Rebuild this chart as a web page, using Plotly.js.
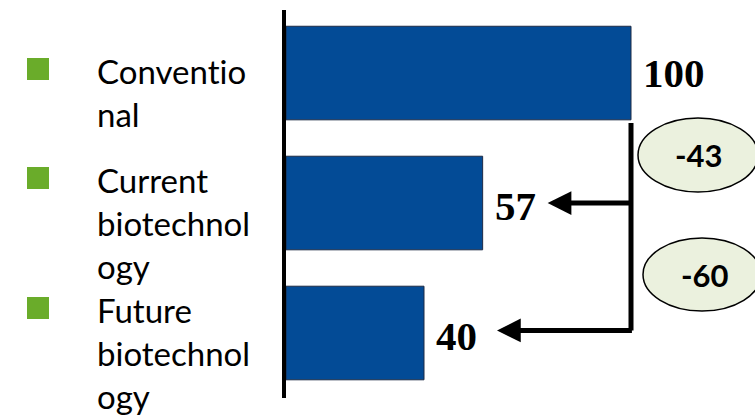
<!DOCTYPE html>
<html>
<head>
<meta charset="utf-8">
<script src="https://cdn.plot.ly/plotly-3.0.1.min.js"></script>
<style>
  html, body { margin: 0; padding: 0; background: #ffffff; }
  #chart { width: 755px; height: 415px; }
  #chart text { font-variant-ligatures: none; font-feature-settings: "liga" 0, "clig" 0; }
</style>
</head>
<body>
<div id="chart"></div>
<script>
// ---- data ----
const categories = ['Conventional', 'Current biotechnology', 'Future biotechnology'];
const values = [100, 57, 40];
const legendLabels = ['Conventio<br>nal', 'Current<br>biotechnol<br>ogy', 'Future<br>biotechnol<br>ogy'];
const changes = [-43, -60];

// ---- layout helpers (pixel -> paper) ----
const W = 755, H = 415;
const M = { l: 286, r: 0, t: 10, b: 17 };
const PW = W - M.l - M.r, PH = H - M.t - M.b;
const px = x => (x - M.l) / PW;
const py = y => (H - M.b - y) / PH;

const barColor = '#034B96';
const bulletColor = '#6AAC2A';

const traces = [{
  type: 'bar',
  orientation: 'h',
  y: categories,
  x: values,
  width: 0.72,
  marker: { color: barColor, line: { color: '#1d2b45', width: 1 } },
  hoverinfo: 'skip'
}];

const shapes = [];
const annotations = [];

// legend-like labels with green bullets on the left
const legendCenters = [92, 223, 353];
const bulletCenters = [69, 178, 308];
legendLabels.forEach((t, i) => {
  annotations.push({
    xref: 'paper', yref: 'paper', x: px(95), y: py(legendCenters[i]),
    xanchor: 'left', yanchor: 'middle', align: 'left', showarrow: false,
    text: t, font: { family: 'Lato, sans-serif', size: 33, color: '#000000' }
  });
  shapes.push({
    type: 'rect', xref: 'paper', yref: 'paper',
    x0: px(27), x1: px(49), y0: py(bulletCenters[i] + 11), y1: py(bulletCenters[i] - 11),
    fillcolor: bulletColor, line: { width: 0 }
  });
});

// value labels
const labelYShift = [0, -3, -3];
values.forEach((v, i) => {
  annotations.push({
    xref: 'x', yref: 'y', x: v, y: i, xanchor: 'left', yanchor: 'middle',
    xshift: 10, yshift: labelYShift[i], showarrow: false, text: String(v),
    font: { family: '"Liberation Serif", "Times New Roman", serif', size: 41, color: '#000000', weight: 'bold' }
  });
});

// bracket: vertical line at the reference value, arrows to the other bars
shapes.push({
  type: 'line', xref: 'x', yref: 'y',
  x0: values[0], x1: values[0], y0: 0.385, y1: 2 - 0.02,
  line: { color: '#000000', width: 5 }
});
const standoffs = [65, 73];
[1, 2].forEach((i, k) => {
  annotations.push({
    xref: 'x', yref: 'y', x: values[i], y: i - (i === 2 ? 0.02 : 0),
    axref: 'x', ax: values[0] + 0.7, ayref: 'pixel', ay: 0,
    text: '', showarrow: true, arrowhead: 2, arrowsize: 0.95, arrowwidth: 5,
    arrowcolor: '#000000', standoff: standoffs[k]
  });
});

// change ellipses
const ellipses = [
  { x0: 638, x1: 758, y0: 118, y1: 192, tx: 699, ty: 155 },
  { x0: 643, x1: 761, y0: 238, y1: 311, tx: 705, ty: 275 }
];
changes.forEach((c, k) => {
  const e = ellipses[k];
  shapes.push({
    type: 'circle', xref: 'paper', yref: 'paper',
    x0: px(e.x0), x1: px(e.x1), y0: py(e.y1), y1: py(e.y0),
    fillcolor: '#EBF1DE', line: { color: '#000000', width: 1.5 }
  });
  annotations.push({
    xref: 'paper', yref: 'paper', x: px(e.tx), y: py(e.ty),
    xanchor: 'center', yanchor: 'middle', showarrow: false,
    text: String(c), font: { family: 'Lato, sans-serif', size: 31, color: '#000000', weight: 'bold' }
  });
});

const layout = {
  width: W, height: H,
  margin: M,
  paper_bgcolor: '#ffffff', plot_bgcolor: '#ffffff',
  showlegend: false,
  xaxis: { range: [0, PW / 3.45], visible: false, fixedrange: true },
  yaxis: {
    type: 'category', categoryarray: categories, range: [2.5, -0.485],
    showticklabels: false, ticks: '', showgrid: false, zeroline: false,
    showline: true, linecolor: '#000000', linewidth: 4, fixedrange: true
  },
  shapes: shapes,
  annotations: annotations
};

Plotly.newPlot('chart', traces, layout, { displayModeBar: false, staticPlot: true });
</script>
</body>
</html>
